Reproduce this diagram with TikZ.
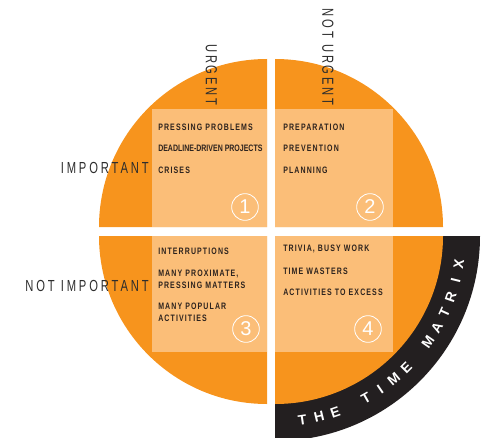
\documentclass[tikz,border=0pt]{standalone}
\usepackage{fontspec}
\setmainfont{Liberation Sans}
\newfontfamily\axisfont[FakeStretch=0.7,LetterSpace=18]{Liberation Sans}
\newfontfamily\itemfont[FakeStretch=0.75,LetterSpace=12]{Liberation Sans}
\definecolor{tmorange}{RGB}{247,148,29}
\definecolor{tmlight}{RGB}{251,190,120}
\definecolor{tmband}{RGB}{35,31,32}
\definecolor{tmgray}{RGB}{45,45,45}
\definecolor{tmtext}{RGB}{45,35,30}

\begin{document}
\begin{tikzpicture}[x=0.75pt,y=0.75pt,yscale=-1,xscale=1,
    quarter/.style={fill=tmorange},
    square/.style={fill=tmlight},
    axislabel/.style={inner sep=0.75pt, text=tmgray, font=\axisfont\fontsize{12}{12}\selectfont},
    item/.style={anchor=west, inner sep=0.75pt, text=tmtext, align=left, font=\itemfont\bfseries\fontsize{7}{9}\selectfont},
    qnum/.style={circle, draw=white, line width=0.6pt, minimum size=20pt, inner sep=0pt, text=white, font=\fontsize{15}{15}\selectfont},
    bandletter/.style={inner sep=0pt, text=white, font=\bfseries\fontsize{10.5}{10.5}\selectfont}]
    \clip (0,0) rectangle (481,438); %picture is 481 x 438
    
    % centres of the four quarters
    \coordinate (c1) at (267,227);
    \coordinate (c2) at (275,227);
    \coordinate (c3) at (267,236);
    \coordinate (c4) at (275,236);
    
    %Shape: Arc [band]
    \fill [tmband] (c4) -- ++(0:205) arc [start angle=0, end angle=90, radius=205] -- cycle;
    %Shape: Arc [quarters]
    \fill [quarter] (c1) -- ++(180:168) arc [start angle=180, end angle=270, radius=168] -- cycle;
    \fill [quarter] (c2) -- ++(270:168) arc [start angle=270, end angle=360, radius=168] -- cycle;
    \fill [quarter] (c3) -- ++(90:168) arc [start angle=90, end angle=180, radius=168] -- cycle;
    \fill [quarter] (c4) -- ++(0:168) arc [start angle=0, end angle=90, radius=168] -- cycle;
    %Shape: Rectangle [light squares]
    \fill [square] (c1) rectangle ++(-115,-118);
    \fill [square] (c2) rectangle ++(118,-118);
    \fill [square] (c3) rectangle ++(-115,116);
    \fill [square] (c4) rectangle ++(118,116);
    
    % Text Node
    \draw (211.5,107) node (urgent) [axislabel, anchor=east, rotate=-90] {URGENT};
    % Text Node
    \draw (328,107) node (noturgent) [axislabel, anchor=east, rotate=-90] {NOT URGENT};
    % Text Node
    \draw (150,168) node (important) [axislabel, anchor=east] {IMPORTANT};
    % Text Node
    \draw (150,286) node (notimportant) [axislabel, anchor=east] {NOT IMPORTANT};
    
    % quadrant 1
    \draw (157,127) node (qa1) [item] {PRESSING PROBLEMS};
    \draw (157,148) node (qa2) [item] {\addfontfeatures{LetterSpace=0}DEADLINE-DRIVEN PROJECTS};
    \draw (157,170) node (qa3) [item] {CRISES};
    % quadrant 2
    \draw (282,127) node (qb1) [item] {PREPARATION};
    \draw (282,148) node (qb2) [item] {PREVENTION};
    \draw (282,170) node (qb3) [item] {PLANNING};
    % quadrant 3
    \draw (157,251) node (qc1) [item] {INTERRUPTIONS};
    \draw (157,279) node (qc2) [item] {MANY PROXIMATE,\\PRESSING MATTERS};
    \draw (157,312) node (qc3) [item] {MANY POPULAR\\ACTIVITIES};
    % quadrant 4
    \draw (282,249) node (qd1) [item] {TRIVIA, BUSY WORK};
    \draw (282,271) node (qd2) [item] {TIME WASTERS};
    \draw (282,292) node (qd3) [item] {ACTIVITIES TO EXCESS};
    
    % numbers
    \draw (245,207) node (n1) [qnum] {1};
    \draw (370,207) node (n2) [qnum] {2};
    \draw (246,329) node (n3) [qnum] {3};
    \draw (368,329) node (n4) [qnum] {4};
    
    % letters along the band
    \foreach \ch [count=\i from 0] in {T,H,E,{},T,I,M,E,{},M,A,T,R,I,X}
      \path (c4) ++({81.5-5.2*\i}:186) node (b\i) [bandletter, rotate={8.5+5.2*\i}] {\ch};
    
\end{tikzpicture}
\end{document}
